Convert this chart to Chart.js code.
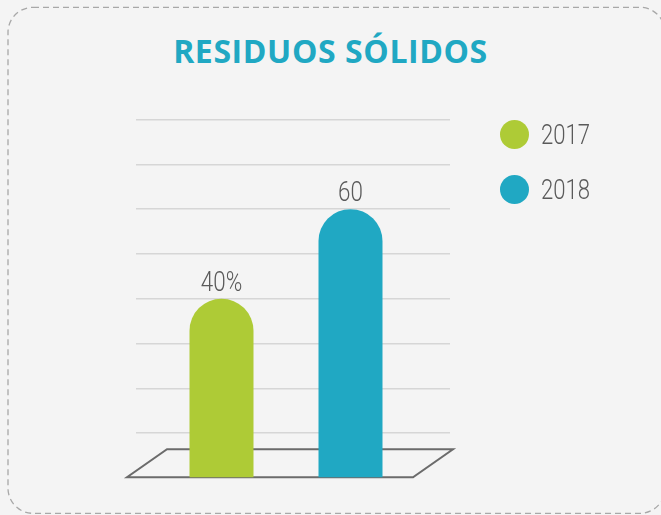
<!DOCTYPE html>
<html lang="es">
<head>
<meta charset="utf-8">
<title>Residuos sólidos</title>
<script src="https://cdn.jsdelivr.net/npm/chart.js@4.4.1/dist/chart.umd.min.js"></script>
<style>
  html, body { margin: 0; padding: 0; background: #f4f4f4; }
  body { width: 661px; height: 515px; position: relative; overflow: hidden; }
  #frame { position: absolute; left: 0; top: 0; }
  h1 {
    position: absolute; left: 0; top: 35px; width: 661px; margin: 0;
    text-align: center; font: 700 32px/31px 'Open Sans', sans-serif; letter-spacing: 0.6px; color: #20a8c3;
  }
  #wasteChart { position: absolute; left: 0; top: 0; }
  #legend { position: absolute; left: 500px; top: 119.5px; list-style: none; margin: 0; padding: 0; }
  #legend li {
    display: flex; align-items: center; height: 29px; margin-bottom: 26px;
    font: 300 28px Roboto, sans-serif; color: #5a5a5a;
  }
  #legend .dot { width: 29px; height: 29px; border-radius: 50%; margin-right: 12px; }
  #legend .txt { display: inline-block; transform: scaleX(0.79); transform-origin: left center; }
</style>
</head>
<body>
<svg id="frame" width="661" height="515">
  <rect x="8" y="7.3" width="657" height="506" rx="25" ry="25" fill="none"
        stroke="#a8a8a8" stroke-width="1.3" stroke-dasharray="6 4"/>
</svg>
<h1>RESIDUOS SÓLIDOS</h1>
<canvas id="wasteChart" width="661" height="515"></canvas>
<ul id="legend"></ul>
<script>
// Data
const categories = ['Residuos sólidos'];
const seriesNames = ['2017', '2018'];
const values2017 = [40];
const values2018 = [60];
const valueLabels2017 = ['40%'];
const valueLabels2018 = ['60'];
const yMin = 0;
const yMax = 80;
const yStep = 10;

const colors = ['#aecb36', '#20a8c3'];
// condensed look: Roboto light squeezed horizontally
const labelFont = "300 28px Roboto, sans-serif";
const squeeze = 0.8;

// Floor drawn under the bars, like a flat tray
const floorPlugin = {
    id: 'floor',
    beforeDatasetsDraw(chart) {
        const { ctx, chartArea: { left, right }, scales: { y } } = chart;
        const front = y.getPixelForValue(yMin) - 0.7;
        const back = front - 28;
        ctx.save();
        ctx.strokeStyle = '#6b6b6b';
        ctx.lineWidth = 2;
        ctx.beginPath();
        ctx.moveTo(left - 9, front);
        ctx.lineTo(right - 23, front);
        ctx.lineTo(right + 17, back);
        ctx.lineTo(left + 31, back);
        ctx.closePath();
        ctx.stroke();
        ctx.restore();
    }
};

// Value labels above every bar
const valueLabelPlugin = {
    id: 'valueLabels',
    afterDatasetsDraw(chart) {
        const { ctx } = chart;
        chart.data.datasets.forEach((ds, i) => {
            chart.getDatasetMeta(i).data.forEach((bar, j) => {
                ctx.save();
                ctx.font = labelFont;
                ctx.fillStyle = '#5a5a5a';
                ctx.textAlign = 'center';
                ctx.textBaseline = 'alphabetic';
                ctx.translate(bar.x, bar.y - 8);
                ctx.scale(squeeze, 1);
                ctx.fillText(ds.valueLabels[j], 0, 0);
                ctx.restore();
            });
        });
    }
};

const ctx = document.getElementById('wasteChart').getContext('2d');
const wasteChart = new Chart(ctx, {
    type: 'bar',
    data: {
        labels: categories,
        datasets: [{
            label: seriesNames[0],
            data: values2017,
            valueLabels: valueLabels2017,
            backgroundColor: colors[0]
        }, {
            label: seriesNames[1],
            data: values2018,
            valueLabels: valueLabels2018,
            backgroundColor: colors[1]
        }]
    },
    options: {
        responsive: false,
        animation: false,
        categoryPercentage: 0.86,
        barPercentage: 0.496,
        borderRadius: { topLeft: 32, topRight: 32, bottomLeft: 0, bottomRight: 0 },
        borderSkipped: 'bottom',
        layout: { padding: { left: 136, right: 211, top: 119.5, bottom: 37 } },
        plugins: {
            legend: { display: false },
            title: { display: false },
            tooltip: { enabled: false }
        },
        scales: {
            x: { display: false },
            y: {
                position: 'right',
                min: yMin,
                max: yMax,
                ticks: { display: false, stepSize: yStep },
                border: { display: false },
                grid: {
                    color: c => c.tick && c.tick.value === yMin ? 'rgba(0,0,0,0)' : '#d6d6d6',
                    lineWidth: 1.5,
                    drawTicks: true,
                    tickLength: 14
                }
            }
        }
    },
    plugins: [floorPlugin, valueLabelPlugin]
});

// Legend on the side, built from the chart's datasets
const legend = document.getElementById('legend');
wasteChart.data.datasets.forEach(ds => {
    const li = document.createElement('li');
    li.innerHTML = `<span class="dot" style="background:${ds.backgroundColor}"></span><span class="txt">${ds.label}</span>`;
    legend.appendChild(li);
});
</script>
</body>
</html>
